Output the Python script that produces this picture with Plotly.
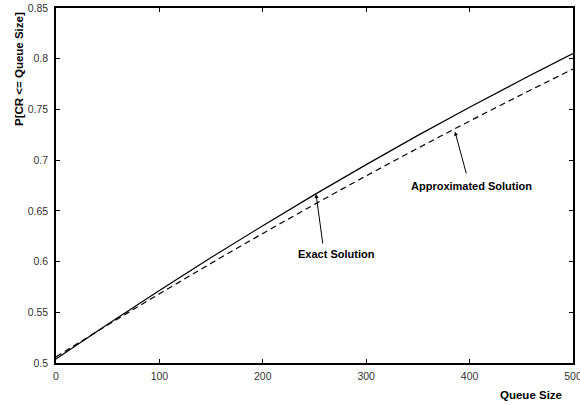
import plotly.graph_objects as go

queue_size = [0, 50, 100, 150, 200, 250, 300, 350, 400, 450, 500]
exact_solution = [0.504, 0.5382, 0.5716, 0.6040, 0.6354, 0.6660, 0.6956, 0.7244, 0.7522, 0.7790, 0.805]
approx_solution = [0.506, 0.5375, 0.5682, 0.5983, 0.6277, 0.6564, 0.6845, 0.7118, 0.7385, 0.7645, 0.7898]
x_ticks = [0, 100, 200, 300, 400, 500]
y_ticks = [0.5, 0.55, 0.6, 0.65, 0.7, 0.75, 0.8, 0.85]
y_tick_labels = ["0.5", "0.55", "0.6", "0.65", "0.7", "0.75", "0.8", "0.85"]

FONT = "Liberation Sans, Arial, sans-serif"

fig = go.Figure()
fig.add_trace(go.Scatter(x=queue_size, y=exact_solution, mode="lines", name="Exact Solution",
                         line=dict(color="black", width=1.2, shape="spline")))
fig.add_trace(go.Scatter(x=queue_size, y=approx_solution, mode="lines", name="Approximated Solution",
                         line=dict(color="black", width=1.2, dash="6px,4px", shape="spline")))

axis_common = dict(showline=True, linecolor="black", linewidth=1.5, mirror="ticks",
                   ticks="inside", ticklen=4, tickcolor="black", tickwidth=1,
                   showgrid=False, zeroline=False, automargin=False,
                   tickfont=dict(family=FONT, size=10.5, color="#333"))

fig.update_xaxes(range=[0, 500], tickvals=x_ticks, ticktext=[str(v) for v in x_ticks],
                 ticklabeloverflow="allow", ticklabelstandoff=3, **axis_common)
fig.update_yaxes(range=[0.5, 0.85], tickvals=y_ticks, ticktext=y_tick_labels,
                 ticklabeloverflow="allow", ticklabelstandoff=4, **axis_common)

ann_font = dict(family=FONT, size=11, color="black")
fig.add_annotation(x=251.5, y=0.6666, ax=258.2, ay=0.6163, axref="x", ayref="y", xref="x", yref="y",
                   text="", showarrow=True, arrowhead=2, arrowsize=0.8, arrowwidth=1, arrowcolor="black")
fig.add_annotation(x=271.5, y=0.6072, text="<b>Exact Solution</b>", showarrow=False, font=ann_font)
fig.add_annotation(x=385.9, y=0.728, ax=397.2, ay=0.6854, axref="x", ayref="y", xref="x", yref="y",
                   text="", showarrow=True, arrowhead=2, arrowsize=0.8, arrowwidth=1, arrowcolor="black")
fig.add_annotation(x=401.4, y=0.6745, text="<b>Approximated Solution</b>", showarrow=False, font=ann_font)

title_font = dict(family=FONT, size=11.5, color="black")
fig.add_annotation(xref="paper", yref="paper", x=(531 - 56) / 517, y=(363 - 395) / 355,
                   text="<b>Queue Size</b>", showarrow=False, font=title_font,
                   xanchor="center", yanchor="middle")
fig.add_annotation(xref="paper", yref="paper", x=(19 - 56) / 517, y=(363 - 69) / 355,
                   text="<b>P[CR <= Queue Size]</b>", showarrow=False, font=title_font,
                   textangle=-90, xanchor="center", yanchor="middle")

fig.update_layout(width=580, height=405, margin=dict(l=56, r=7, t=8, b=42),
                  paper_bgcolor="white", plot_bgcolor="white", showlegend=False,
                  font=dict(family=FONT))

fig.write_html("out.html")
